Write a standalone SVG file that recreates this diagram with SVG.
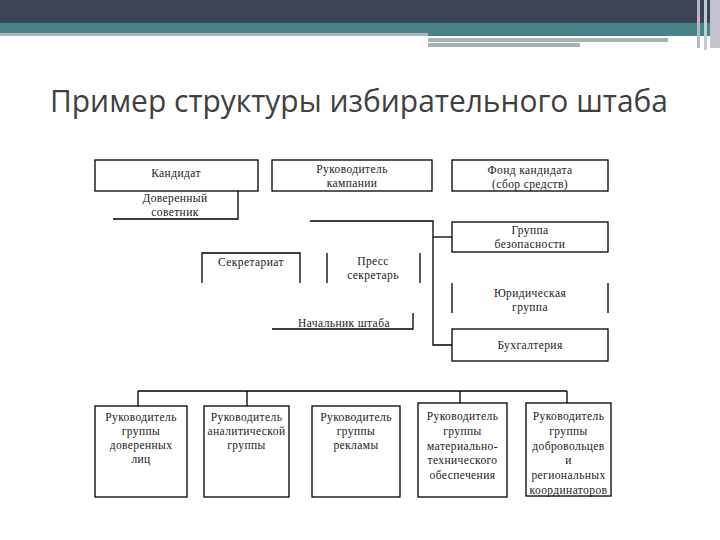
<svg xmlns="http://www.w3.org/2000/svg" width="720" height="540" viewBox="0 0 720 540">
<style>
.b{fill:none;stroke:#000;stroke-width:1.3}
.t{font-family:"Liberation Serif","Times New Roman",serif;font-size:11.5px;fill:#1a1a1a;text-anchor:middle;letter-spacing:0.4px}
</style>
<rect width="720" height="540" fill="#fff"/>
<g id="header">
<rect x="0" y="0" width="720" height="23" fill="#3e4357"/>
<rect x="0" y="23" width="720" height="10" fill="#46848a"/>
<rect x="0" y="33" width="428" height="3" fill="#a9b9bb"/>
<rect x="428" y="33" width="292" height="3" fill="#46848a"/>
<rect x="428" y="38" width="240" height="4" fill="#a3b4b4"/>
<rect x="428" y="43" width="152" height="4" fill="#a3b4b4"/>
<rect x="697" y="0" width="3" height="48" fill="#b4b8c4"/>
<rect x="704" y="0" width="3" height="50" fill="#c6cad2"/>
<rect x="710" y="0" width="10" height="48" fill="#c4c2d0"/>
</g>
<text x="50" y="112" font-family="Open Sans, DejaVu Sans, sans-serif" font-size="31" fill="#404040" textLength="618" lengthAdjust="spacingAndGlyphs">Пример структуры избирательного штаба</text>
<g id="connectors" class="b">
<path d="M310,221 H433 V345 H452"/>
<path d="M433,237 H452"/>
<path d="M138,391 H567"/>
<path d="M138,391 V406 M247,391 V406 M460,391 V403 M567,391 V403"/>
</g>
<g id="kandidat"><rect class="b" x="95" y="160" width="163" height="31"/><text class="t" x="176" y="177">Кандидат</text></g>
<g id="rukovoditel"><rect class="b" x="272" y="160" width="160" height="31"/><text class="t" x="352" y="173">Руководитель</text><text class="t" x="352" y="187">кампании</text></g>
<g id="fond"><rect class="b" x="452" y="160" width="156" height="31"/><text class="t" x="530" y="174">Фонд кандидата</text><text class="t" x="530" y="188">(сбор средств)</text></g>
<g id="doverenny"><path class="b" d="M238,191 V219 H113"/><text class="t" x="175" y="202">Доверенный</text><text class="t" x="175" y="216">советник</text></g>
<g id="sekretariat"><path class="b" d="M202,283 V253 H300 V283"/><text class="t" x="251" y="266">Секретариат</text></g>
<g id="press"><path class="b" d="M327,253 V283 M420,253 V283"/><text class="t" x="373" y="265">Пресс</text><text class="t" x="373" y="279">секретарь</text></g>
<g id="bezopasnost"><rect class="b" x="452" y="222" width="156" height="30"/><text class="t" x="530" y="234">Группа</text><text class="t" x="530" y="248">безопасности</text></g>
<g id="yurid"><path class="b" d="M452,283 V313 M608,283 V313"/><text class="t" x="530" y="297">Юридическая</text><text class="t" x="530" y="311">группа</text></g>
<g id="nachalnik"><path class="b" d="M272,329 H413 V313"/><text class="t" x="344" y="327">Начальник штаба</text></g>
<g id="buh"><rect class="b" x="452" y="329" width="156" height="32"/><text class="t" x="530" y="349">Бухгалтерия</text></g>
<g id="g1"><rect class="b" x="95" y="406" width="92" height="91"/><text class="t" x="141" y="421">Руководитель</text><text class="t" x="141" y="435">группы</text><text class="t" x="141" y="449">доверенных</text><text class="t" x="141" y="463">лиц</text></g>
<g id="g2"><rect class="b" x="204" y="406" width="85" height="91"/><text class="t" x="246.5" y="421">Руководитель</text><text class="t" x="246.5" y="435">аналитической</text><text class="t" x="246.5" y="449">группы</text></g>
<g id="g3"><rect class="b" x="312" y="406" width="88" height="91"/><text class="t" x="356" y="421">Руководитель</text><text class="t" x="356" y="435">группы</text><text class="t" x="356" y="449">рекламы</text></g>
<g id="g4"><rect class="b" x="418" y="403" width="89" height="94"/><text class="t" x="462.5" y="420">Руководитель</text><text class="t" x="462.5" y="434.8">группы</text><text class="t" x="462.5" y="449.6">материально-</text><text class="t" x="462.5" y="464.4">технического</text><text class="t" x="462.5" y="479.2">обеспечения</text></g>
<g id="g5"><rect class="b" x="526" y="403" width="85" height="93"/><text class="t" x="568.5" y="420">Руководитель</text><text class="t" x="568.5" y="434.8">группы</text><text class="t" x="568.5" y="449.6">добровольцев</text><text class="t" x="568.5" y="464.4">и</text><text class="t" x="568.5" y="479.2">региональных</text><text class="t" x="568.5" y="493.5" letter-spacing="0">координаторов</text></g>
</svg>
